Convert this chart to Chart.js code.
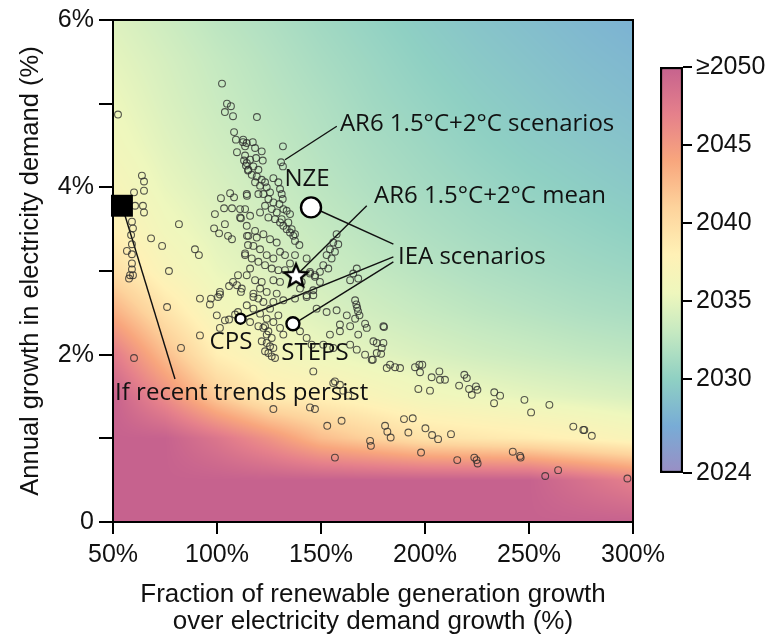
<!DOCTYPE html>
<html>
<head>
<meta charset="utf-8">
<script src="https://cdn.jsdelivr.net/npm/chart.js@4.4.1/dist/chart.umd.min.js"></script>
<style>
  html, body { margin: 0; padding: 0; background: #fff; }
  #wrap { position: relative; width: 781px; height: 641px; }
  #main { position: absolute; left: 0; top: 0; }
  #cbar { position: absolute; left: 640px; top: 0; }
</style>
</head>
<body>
<div id="wrap">
  <canvas id="main" width="781" height="641"></canvas>
  <canvas id="cbar" width="141" height="641"></canvas>
</div>
<script>
// AR6 1.5°C + 2°C scenarios: [renewable fraction %, demand growth %]
const ar6Scenarios = [
  [52.4,4.87],[63.9,4.14],[64.9,4.07],[64.9,3.96],[60.1,3.94],[60.6,3.78],[64.4,3.78],[64.9,3.70],
  [59.1,3.59],[59.6,3.51],[58.7,3.43],[59.1,3.32],[56.7,3.24],[59.1,3.20],[59.1,3.09],[59.1,3.02],
  [58.2,2.95],[59.6,2.95],[57.7,2.91],[60.1,1.96],
  [68.3,3.39],[73.6,3.30],[81.7,3.56],[89.4,3.26],[91.3,3.19],[76.9,3.00],[76.0,2.57],[91.8,2.23],[82.7,2.08],
  [102.4,5.24],[104.8,5.00],[106.7,4.97],[103.8,4.90],[107.7,4.85],[108.2,4.66],[109.1,4.57],[112.5,4.54],
  [113.5,4.49],[109.6,4.42],[113.0,4.32],[113.9,4.26],[114.9,4.20],[106.3,3.93],[108.2,3.88],[101.9,3.87],
  [114.4,3.90],[103.4,3.75],[107.2,3.75],[111.1,3.74],[99.0,3.68],[103.8,3.56],[111.1,3.64],[111.5,3.63],
  [98.6,3.51],[101.0,3.45],[105.3,3.42],[107.2,3.38],[114.4,3.42],[113.5,3.19],[114.9,3.31],[110.1,2.95],
  [107.7,2.87],[105.8,2.82],[109.6,2.83],[111.5,2.75],[101.4,2.75],[97.1,2.67],[96.6,2.60],[100.5,2.69],
  [101.4,2.72],[103.8,2.41],[105.8,2.42],[108.7,2.48],[110.1,2.51],[119.2,4.84],[131.7,4.49],[130.8,4.30],
  [131.7,4.25],
  [112.6,4.57],[114.3,4.53],[117.2,4.54],[118.3,4.47],[121.5,4.43],[113.5,4.38],[115.9,4.33],[118.8,4.35],
  [122.0,4.32],[114.3,4.29],[117.5,4.25],[119.9,4.21],[115.1,4.21],[116.7,4.15],[119.1,4.13],[121.5,4.09],
  [123.1,4.06],[118.3,4.06],[120.7,4.02],[123.9,4.00],[125.5,3.94],[122.3,3.92],[119.9,3.92],[124.7,3.86],
  [127.1,3.82],[123.1,3.78],[126.3,3.74],[128.7,3.70],[120.7,3.70],[124.7,3.64],[127.9,3.62],[130.3,3.58],
  [131.9,3.54],[133.5,3.50],[135.1,3.46],[136.7,3.42],[137.5,3.36],[139.6,3.31],[127.1,4.11],[129.5,4.06],
  [130.3,3.98],[131.1,3.92],[131.6,3.86],[130.0,3.80],[131.9,3.74],[133.5,3.72],[135.1,3.68],[131.1,3.62],
  [134.3,3.58],[135.9,3.50],[137.5,3.44],[114.3,3.92],[113.5,3.74],[115.9,3.66],[114.3,3.54],[118.3,3.48],
  [122.3,3.44],[119.1,3.40],[125.5,3.38],[128.7,3.34],[115.1,3.42],[117.5,3.30],[120.7,3.26],[113.5,3.21],
  [116.7,3.15],[123.9,3.19],[127.1,3.15],[130.3,3.23],[132.7,3.19],[137.5,3.19],[143.1,3.15],[119.9,3.11],
  [123.1,3.07],[126.3,3.03],[129.5,3.01],[132.7,3.01],[135.1,3.09],[115.9,3.03],[114.3,2.95],[118.3,2.89],
  [121.5,2.87],[127.1,2.89],[130.3,2.87],[140.7,2.87],[144.7,2.97],[147.1,2.95],[111.9,2.79],[120.7,2.79],
  [123.9,2.75],[117.5,2.69],[128.7,2.73],[146.3,2.71],
  [157.5,3.44],[155.9,3.34],[158.3,3.32],[154.3,3.26],[156.7,3.23],[152.7,3.19],[155.1,3.15],[151.1,3.07],
  [153.5,3.03],[149.5,2.99],[167.2,3.03],[165.5,2.97],[164.0,2.89],[167.9,2.91],
  [166.4,2.65],[167.0,2.60],[167.4,2.56],[167.8,2.52],[168.5,2.47],[171.2,2.37],[180.0,2.34],
  [146.3,1.80],[155.9,1.66],[160.7,1.57],[163.1,1.51],
  [123.1,2.34],[124.7,2.28],[126.3,2.20],[123.9,2.14],[127.1,2.08],[124.7,2.02],[127.9,1.96],[130.3,2.32],
  [131.9,2.24],
  [127.1,2.63],[131.9,2.65],[137.5,2.67],[143.1,2.69],[147.9,2.55],[152.7,2.51],[157.5,2.53],[162.4,2.47],
  [166.4,2.43],[172.0,2.32],[159.1,2.36],[164.0,2.34],[167.9,2.24],[175.2,2.16],[164.0,2.12],[167.2,2.06],
  [171.2,2.00],[174.4,1.94],[176.8,2.02],[159.1,2.28],[154.3,2.24],[151.1,2.12],[155.9,2.08],[139.9,2.28],
  [143.1,2.20],[145.5,2.12],[156.7,1.68],[159.1,1.64],[127.1,1.35],[144.7,1.37],[147.1,1.35],[153.0,1.15],
  [159.9,1.21],[173.6,0.97],[174.0,0.91],[156.7,0.77],
  [122.3,2.32],[123.9,2.24],[121.5,2.16],[125.5,2.10],[123.1,2.04],[126.3,1.98],
  [180.3,2.33],[176.8,2.14],[180.0,2.14],[179.2,2.08],[178.9,2.01],[174.9,1.94],[183.2,1.88],[181.6,1.84],
  [185.6,1.85],[188.0,1.84],[195.2,1.85],[197.3,1.88],[198.7,1.88],[197.6,1.79],[203.2,1.73],[206.9,1.80],
  [207.2,1.70],[209.6,1.70],[196.8,1.59],[202.4,1.57],[216.4,1.63],[218.9,1.76],[220.1,1.72],[221.2,1.59],
  [222.5,1.52],[224.5,1.62],[225.2,1.58],[233.3,1.55],[236.1,1.51],[233.2,1.42],[247.8,1.46],[251.0,1.31],
  [259.8,1.40],[271.3,1.14],[276.1,1.10],[276.6,1.10],[280.2,1.03],[189.9,1.23],[194.1,1.24],[180.8,1.15],
  [181.9,1.08],[183.5,1.01],[192.0,1.07],[200.2,1.12],[203.4,1.04],[206.3,0.99],[212.5,1.05],[198.1,0.83],
  [215.5,0.74],[223.7,0.77],[224.8,0.74],[225.3,0.70],[242.2,0.84],[245.7,0.79],[246.0,0.77],[257.8,0.55],
  [264.0,0.62],[297.3,0.52],
  [144.7,2.99],[147.1,2.93],[149.5,2.87],[143.1,2.71],[146.3,2.77],[139.9,2.79],
  [117.5,2.73],[119.9,2.67],[122.3,2.63],[125.5,2.55],[117.5,2.55],[120.7,2.49],[114.3,2.59],[123.9,2.43],
  [127.1,2.39],[115.9,2.39],[119.9,2.34],[129.5,2.47],[91.8,2.67],[99.9,2.47],[101.4,2.32]
];

// IEA scenarios
const ieaNames = ['NZE', 'STEPS', 'CPS'];
const ieaFraction = [145.2, 136.5, 111.3];
const ieaDemand = [3.76, 2.37, 2.43];

// AR6 mean and recent trend
const ar6Mean = [138.0, 2.95];
const recentTrend = [54.3, 3.78];

// background: year reached, rows from 6% down to 0%
const heatX = [50, 75, 100, 125, 150, 175, 200, 225, 250, 275, 300];
const heatY = [6, 5.5, 5, 4.5, 4, 3.5, 3, 2.5, 2, 1.5, 1, 0.5, 0];
const heatYears = [
  [2034.5, 2033.5, 2032.5, 2031.8, 2031.0, 2030.3, 2029.6, 2029.0, 2028.5, 2028.0, 2027.5],
  [2035.0, 2034.0, 2033.0, 2032.2, 2031.4, 2030.7, 2030.0, 2029.4, 2028.9, 2028.4, 2028.0],
  [2035.5, 2034.3, 2033.3, 2032.5, 2031.8, 2031.0, 2030.4, 2029.8, 2029.3, 2028.8, 2028.4],
  [2036.0, 2034.7, 2033.7, 2032.9, 2032.1, 2031.4, 2030.8, 2030.2, 2029.7, 2029.3, 2028.9],
  [2036.8, 2035.2, 2034.2, 2033.3, 2032.5, 2031.8, 2031.2, 2030.7, 2030.2, 2029.8, 2029.4],
  [2038.0, 2035.9, 2034.7, 2033.8, 2033.0, 2032.3, 2031.7, 2031.2, 2030.8, 2030.4, 2030.0],
  [2040.0, 2037.0, 2035.3, 2034.4, 2033.6, 2032.9, 2032.3, 2031.8, 2031.4, 2031.0, 2030.7],
  [2043.5, 2039.5, 2036.3, 2035.2, 2034.4, 2033.7, 2033.1, 2032.6, 2032.2, 2031.8, 2031.5],
  [2047.5, 2042.5, 2038.2, 2036.5, 2035.5, 2034.8, 2034.2, 2033.7, 2033.3, 2032.9, 2032.6],
  [2050.0, 2046.0, 2041.5, 2038.5, 2038.0, 2037.0, 2036.0, 2035.5, 2035.0, 2034.6, 2034.2],
  [2050.0, 2050.0, 2048.0, 2045.5, 2042.5, 2041.0, 2039.5, 2039.0, 2038.5, 2037.8, 2037.0],
  [2050.0, 2050.0, 2050.0, 2050.0, 2050.0, 2050.0, 2050.0, 2050.0, 2050.0, 2048.5, 2047.0],
  [2050.0, 2050.0, 2050.0, 2050.0, 2050.0, 2050.0, 2050.0, 2050.0, 2050.0, 2050.0, 2050.0]
];

// colour scale
const cmapYears = [2024, 2027, 2030, 2033, 2035.5, 2038, 2041, 2044, 2047, 2050];
const cmapColors = ['#9a8ec4', '#78acd6', '#8fd0c3', '#c5e9c1', '#eef7bd', '#fff1b6', '#fdd39c', '#f8a67d', '#e5808b', '#c6628e'];
const colorbarTicks = [2024, 2030, 2035, 2040, 2045, 2050];

// annotations
const noteLabels = [
  { text: 'AR6 1.5°C+2°C scenarios', x: 159.1, y: 4.75, align: 'left' },
  { text: 'NZE', x: 143.3, y: 4.10, align: 'center' },
  { text: 'AR6 1.5°C+2°C mean', x: 175.5, y: 3.90, align: 'left' },
  { text: 'IEA scenarios', x: 187.0, y: 3.17, align: 'left' },
  { text: 'CPS', x: 106.7, y: 2.15, align: 'center' },
  { text: 'STEPS', x: 147.1, y: 2.02, align: 'center' },
  { text: 'If recent trends persist', x: 51.0, y: 1.54, align: 'left' }
];
const noteLines = [
  [[132.7, 4.33], [157.6, 4.73]],
  [[139.9, 2.99], [172.0, 3.78]],
  [[149.5, 3.72], [184.8, 3.32]],
  [[113.5, 2.45], [184.8, 3.17]],
  [[139.1, 2.40], [184.8, 3.11]],
  [[55.8, 3.66], [79.8, 1.71]]
];

const FONT = '"Liberation Sans", Arial, sans-serif';
const NOTE_FONT = '"Open Sans", "Noto Sans", sans-serif';

function hexRgb(h) {
  return [parseInt(h.slice(1, 3), 16), parseInt(h.slice(3, 5), 16), parseInt(h.slice(5, 7), 16)];
}
const cmapRgb = cmapColors.map(hexRgb);

function yearColor(v) {
  if (v <= cmapYears[0]) return cmapRgb[0];
  for (let i = 1; i < cmapYears.length; i++) {
    if (v <= cmapYears[i]) {
      const t = (v - cmapYears[i - 1]) / (cmapYears[i] - cmapYears[i - 1]);
      const a = cmapRgb[i - 1], b = cmapRgb[i];
      return [0, 1, 2].map(k => a[k] + (b[k] - a[k]) * t);
    }
  }
  return cmapRgb[cmapRgb.length - 1];
}

// bilinear lookup in the year grid
function yearAt(xv, yv) {
  const fx = Math.min(Math.max((xv - heatX[0]) / (heatX[1] - heatX[0]), 0), heatX.length - 1);
  const fy = Math.min(Math.max((heatY[0] - yv) / (heatY[0] - heatY[1]), 0), heatY.length - 1);
  const i0 = Math.min(Math.floor(fx), heatX.length - 2), j0 = Math.min(Math.floor(fy), heatY.length - 2);
  const tx = fx - i0, ty = fy - j0;
  const top = heatYears[j0][i0] * (1 - tx) + heatYears[j0][i0 + 1] * tx;
  const bot = heatYears[j0 + 1][i0] * (1 - tx) + heatYears[j0 + 1][i0 + 1] * tx;
  return top * (1 - ty) + bot * ty;
}

const heatmapPlugin = {
  id: 'heatmap',
  beforeDatasetsDraw(chart) {
    const { ctx, chartArea: a, scales: { x, y } } = chart;
    const w = Math.round(a.right - a.left), h = Math.round(a.bottom - a.top);
    const img = ctx.createImageData(w, h);
    for (let py = 0; py < h; py++) {
      const yv = y.getValueForPixel(a.top + py + 0.5);
      for (let px = 0; px < w; px++) {
        const xv = x.getValueForPixel(a.left + px + 0.5);
        const c = yearColor(yearAt(xv, yv));
        const k = (py * w + px) * 4;
        img.data[k] = c[0]; img.data[k + 1] = c[1]; img.data[k + 2] = c[2]; img.data[k + 3] = 255;
      }
    }
    ctx.putImageData(img, Math.round(a.left), Math.round(a.top));

    // leader lines under the markers
    ctx.save();
    ctx.strokeStyle = '#111';
    ctx.lineWidth = 1.4;
    noteLines.forEach(([p, q]) => {
      ctx.beginPath();
      ctx.moveTo(x.getPixelForValue(p[0]), y.getPixelForValue(p[1]));
      ctx.lineTo(x.getPixelForValue(q[0]), y.getPixelForValue(q[1]));
      ctx.stroke();
    });
    ctx.restore();
  },
  afterDatasetsDraw(chart) {
    const { ctx, chartArea: a, scales: { x, y } } = chart;
    ctx.save();
    ctx.fillStyle = '#111';
    ctx.font = '24px ' + NOTE_FONT;
    ctx.textBaseline = 'middle';
    noteLabels.forEach(n => {
      ctx.textAlign = n.align;
      ctx.fillText(n.text, x.getPixelForValue(n.x), y.getPixelForValue(n.y));
    });
    ctx.strokeStyle = '#000';
    ctx.lineWidth = 2;
    ctx.strokeRect(a.left, a.top, a.right - a.left, a.bottom - a.top);
    ctx.restore();
  }
};

function makeStar(size) {
  const c = document.createElement('canvas');
  c.width = c.height = size;
  const g = c.getContext('2d');
  const cx = size / 2, cy = size / 2 + 1, R = size / 2 - 2, r = R * 0.45;
  g.beginPath();
  for (let i = 0; i < 10; i++) {
    const ang = -Math.PI / 2 + i * Math.PI / 5;
    const rad = i % 2 ? r : R;
    g.lineTo(cx + rad * Math.cos(ang), cy + rad * Math.sin(ang));
  }
  g.closePath();
  g.fillStyle = '#fff';
  g.fill();
  g.lineWidth = 2.4;
  g.lineJoin = 'miter';
  g.strokeStyle = '#000';
  g.stroke();
  return c;
}

const toPts = rows => rows.map(([x, y]) => ({ x, y }));

new Chart(document.getElementById('main'), {
  type: 'scatter',
  data: {
    datasets: [
      {
        label: 'If recent trends persist',
        data: toPts([recentTrend]),
        pointStyle: 'rect', pointRadius: 15.5,
        backgroundColor: '#000', borderColor: '#000', borderWidth: 0,
        clip: false
      },
      {
        label: 'AR6 1.5°C+2°C mean',
        data: toPts([ar6Mean]),
        pointStyle: makeStar(28)
      },
      {
        label: 'IEA scenarios',
        data: ieaNames.map((n, i) => ({ x: ieaFraction[i], y: ieaDemand[i] })),
        pointRadius: [10, 6.5, 5], borderWidth: 2.4,
        backgroundColor: '#fff', borderColor: '#000'
      },
      {
        label: 'AR6 1.5°C+2°C scenarios',
        data: toPts(ar6Scenarios),
        pointRadius: 3.4, borderWidth: 1.1,
        backgroundColor: 'rgba(0,0,0,0)', borderColor: 'rgba(45,45,45,0.8)'
      }
    ]
  },
  options: {
    responsive: false,
    animation: false,
    events: [],
    layout: { padding: { top: 16, right: 148, left: 0, bottom: 0 } },
    plugins: { legend: { display: false }, tooltip: { enabled: false } },
    scales: {
      x: {
        type: 'linear', min: 50, max: 300,
        afterFit: s => { s.height = 119; },
        ticks: { stepSize: 50, callback: v => v + '%', color: '#111', font: { family: FONT, size: 25 }, padding: 6, maxRotation: 0 },
        grid: { drawOnChartArea: false, tickLength: 12, color: '#000', lineWidth: 2 },
        border: { color: '#000', width: 2 },
        title: {
          display: true,
          text: ['Fraction of renewable generation growth', 'over electricity demand growth (%)'],
          color: '#111', font: { family: FONT, size: 26, lineHeight: 1.04 },
          padding: { top: 0, bottom: 6 }
        }
      },
      y: {
        type: 'linear', min: 0, max: 6,
        afterFit: s => { s.width = 113; },
        ticks: { stepSize: 1, callback: v => (v % 2 ? '' : (v === 0 ? '0' : v + '%')), color: '#111', font: { family: FONT, size: 25 }, padding: 5 },
        grid: { drawOnChartArea: false, tickLength: 14, color: '#000', lineWidth: 2 },
        border: { color: '#000', width: 2 },
        title: {
          display: true,
          text: 'Annual growth in electricity demand (%)',
          color: '#111', font: { family: FONT, size: 25.5 },
          padding: { top: 16, bottom: 0 }
        }
      }
    }
  },
  plugins: [heatmapPlugin]
});

// colour bar
new Chart(document.getElementById('cbar'), {
  type: 'bar',
  data: {
    labels: ['year'],
    datasets: [{
      data: [[colorbarTicks[0], colorbarTicks[colorbarTicks.length - 1]]],
      backgroundColor: ctx => {
        const a = ctx.chart.chartArea;
        if (!a) return '#ccc';
        const g = ctx.chart.ctx.createLinearGradient(0, a.bottom, 0, a.top);
        const lo = cmapYears[0], hi = cmapYears[cmapYears.length - 1];
        cmapYears.forEach((yr, i) => g.addColorStop((yr - lo) / (hi - lo), cmapColors[i]));
        return g;
      },
      borderColor: '#000', borderWidth: 2.5, borderSkipped: false,
      barPercentage: 1, categoryPercentage: 1
    }]
  },
  options: {
    responsive: false,
    animation: false,
    events: [],
    layout: { padding: { top: 67, bottom: 168, left: 20, right: 0 } },
    plugins: { legend: { display: false }, tooltip: { enabled: false } },
    scales: {
      x: { display: false },
      y: {
        position: 'right', min: 2024, max: 2050,
        afterFit: s => { s.width = 98; },
        afterBuildTicks: s => { s.ticks = colorbarTicks.map(v => ({ value: v })); },
        ticks: { callback: v => (v === 2050 ? '≥2050' : String(v)), color: '#111', font: { family: FONT, size: 25 }, padding: 4 },
        grid: { drawOnChartArea: false, tickLength: 9, color: '#000', lineWidth: 2 },
        border: { display: false }
      }
    }
  }
});
</script>
</body>
</html>
